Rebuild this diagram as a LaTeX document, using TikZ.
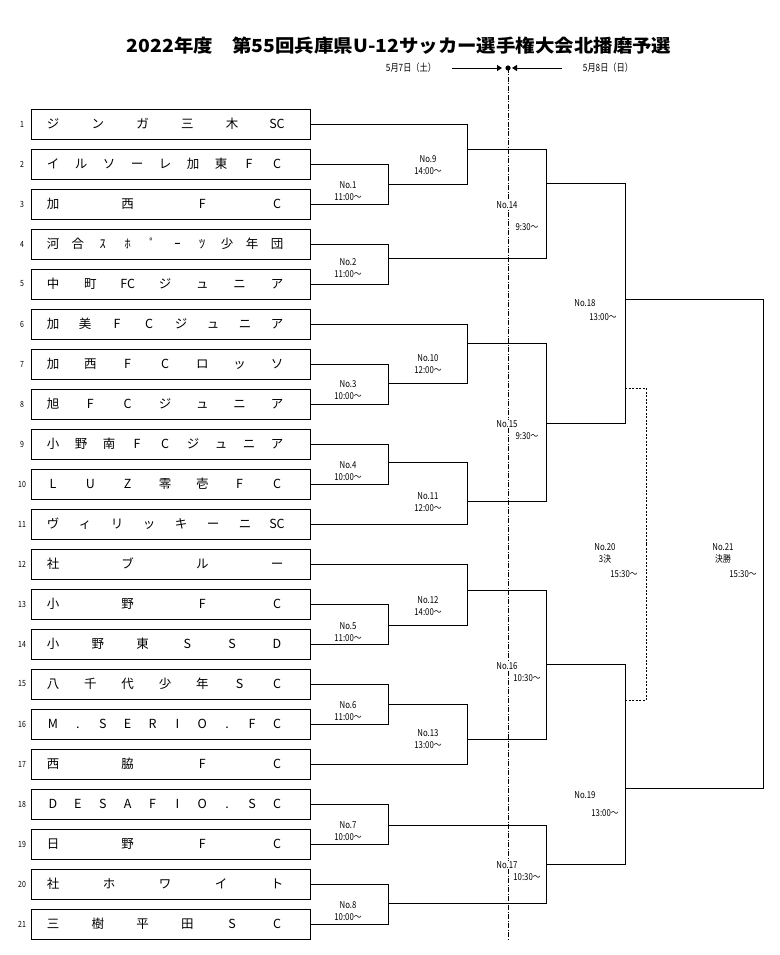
\documentclass[tikz,border=0pt]{standalone}
\usepackage{fontspec}
\setmainfont{Noto Sans CJK JP}
\newfontfamily\jp{Noto Sans CJK JP}
\newfontfamily\narrowjp[FakeStretch=0.82]{Noto Sans CJK JP}
\usetikzlibrary{arrows.meta}
\newcommand\teamrow[2]{%
  \pgfmathsetmacro\ty{124+40*(#1-1)}%
  \node[teambox] (t#1) at (170.5,\ty) {};
  \node[num] (n#1) at (22,\ty) {#1};
  \xdef\ntok{0}%
  \foreach \w in {#2} {\xdef\ntok{\the\numexpr\ntok+1\relax}}%
  \foreach \w [count=\i] in {#2} {%
    \pgfmathsetmacro\tx{53+224*(\i-1)/(\ntok-1)}%
    \node[tok] (t#1w\i) at (\tx,\ty) {\w};
  }%
}
\begin{document}
\begin{tikzpicture}[x=1pt,y=-1pt,
  teambox/.style={draw,line width=0.9pt,minimum width=279pt,minimum height=30pt,inner sep=0pt},
  tok/.style={font=\jp\fontsize{12.5}{14}\selectfont,inner sep=0pt,text height=9.5pt,text depth=1pt},
  num/.style={font=\narrowjp\fontsize{8.5}{9}\selectfont,inner sep=0pt},
  lbl/.style={font=\narrowjp\fontsize{9.5}{12}\selectfont,fill=white,inner sep=0.8pt,align=center},
  wire/.style={line width=0.8pt},
  dashwire/.style={line width=0.7pt,dash pattern=on 2pt off 1.5pt},
  centerline/.style={line width=0.6pt,dash pattern=on 5pt off 1.5pt on 1pt off 1.5pt},
]
\useasboundingbox[fill=white] (0,0) rectangle (779,955);

% header
\node[font=\jp\bfseries\fontsize{18}{20}\selectfont,inner sep=0pt] (title) at (399,46)
  {\scalebox{1.08}[1]{2022年度　第55回兵庫県U-12サッカー選手権大会北播磨予選}};
\node[font=\narrowjp\fontsize{10}{11}\selectfont,inner sep=0pt] (d1) at (411,68) {5月7日（土）};
\node[font=\narrowjp\fontsize{10}{11}\selectfont,inner sep=0pt] (d2) at (608,68) {5月8日（日）};
\coordinate (a1s) at (452,68);
\coordinate (a1e) at (502,68);
\coordinate (a2s) at (562,68);
\coordinate (a2e) at (512,68);
\coordinate (ctop) at (508,68);
\coordinate (cbot) at (508,940);
\draw[centerline] (ctop) -- (cbot);
\draw[line width=0.8pt,-{Triangle[length=5pt,width=6pt]}] (a1s) -- (a1e);
\draw[line width=0.8pt,-{Triangle[length=5pt,width=6pt]}] (a2s) -- (a2e);
\fill (ctop) circle (2.6pt);

% teams
\teamrow{1}{ジ,ン,ガ,三,木,SC}
\teamrow{2}{イ,ル,ソ,ー,レ,加,東,F,C}
\teamrow{3}{加,西,F,C}
\teamrow{4}{河,合,ｽ,ﾎ,ﾟ,ｰ,ﾂ,少,年,団}
\teamrow{5}{中,町,FC,ジ,ュ,ニ,ア}
\teamrow{6}{加,美,F,C,ジ,ュ,ニ,ア}
\teamrow{7}{加,西,F,C,ロ,ッ,ソ}
\teamrow{8}{旭,F,C,ジ,ュ,ニ,ア}
\teamrow{9}{小,野,南,F,C,ジ,ュ,ニ,ア}
\teamrow{10}{L,U,Z,零,壱,F,C}
\teamrow{11}{ヴ,ィ,リ,ッ,キ,ー,ニ,SC}
\teamrow{12}{社,ブ,ル,ー}
\teamrow{13}{小,野,F,C}
\teamrow{14}{小,野,東,S,S,D}
\teamrow{15}{八,千,代,少,年,S,C}
\teamrow{16}{M,.,S,E,R,I,O,.,F,C}
\teamrow{17}{西,脇,F,C}
\teamrow{18}{D,E,S,A,F,I,O,.,S,C}
\teamrow{19}{日,野,F,C}
\teamrow{20}{社,ホ,ワ,イ,ト}
\teamrow{21}{三,樹,平,田,S,C}

% match points
\coordinate (m1) at (388,184);
\coordinate (m2) at (388,258);
\coordinate (m3) at (388,383);
\coordinate (m4) at (388,462);
\coordinate (m5) at (388,625);
\coordinate (m6) at (388,704);
\coordinate (m7) at (388,825);
\coordinate (m8) at (388,903);
\coordinate (m9) at (467,149);
\coordinate (m10) at (467,343);
\coordinate (m11) at (467,501);
\coordinate (m12) at (467,590);
\coordinate (m13) at (467,739);
\coordinate (m14) at (546,183);
\coordinate (m15) at (546,423);
\coordinate (m16) at (546,664);
\coordinate (m17) at (546,864);
\coordinate (m18) at (625,299);
\coordinate (m19) at (625,788);
\coordinate (m21) at (763,540);
\coordinate (s20a) at (625,388);
\coordinate (s20b) at (625,700);
\coordinate (m20) at (646,544);

% wires
\foreach \a/\b in {t2/m1,t3/m1,t4/m2,t5/m2,t7/m3,t8/m3,t9/m4,t10/m4,
                   t13/m5,t14/m5,t15/m6,t16/m6,t18/m7,t19/m7,t20/m8,t21/m8}
  \draw[wire] (\a.east) -| (\b);
\foreach \a/\b in {t1/m9,t6/m10,t11/m11,t12/m12,t17/m13}
  \draw[wire] (\a.east) -| (\b);
\foreach \a/\b in {m1/m9,m3/m10,m4/m11,m5/m12,m6/m13,
                   m9/m14,m2/m14,m10/m15,m11/m15,m12/m16,m13/m16,m7/m17,m8/m17,
                   m14/m18,m15/m18,m16/m19,m17/m19,m18/m21,m19/m21}
  \draw[wire] (\a) -| (\b);
\draw[dashwire] (s20a) -| (m20);
\draw[dashwire] (s20b) -| (m20);

% labels
\node[lbl] (l1) at (348,191) {No.1\\11:00～};
\node[lbl] (l2) at (348,268) {No.2\\11:00～};
\node[lbl] (l3) at (348,390) {No.3\\10:00～};
\node[lbl] (l4) at (348,471) {No.4\\10:00～};
\node[lbl] (l5) at (348,632) {No.5\\11:00～};
\node[lbl] (l6) at (348,711) {No.6\\11:00～};
\node[lbl] (l7) at (348,831) {No.7\\10:00～};
\node[lbl] (l8) at (348,911) {No.8\\10:00～};
\node[lbl] (l9) at (428,165) {No.9\\14:00～};
\node[lbl] (l10) at (428,364) {No.10\\12:00～};
\node[lbl] (l11) at (428,502) {No.11\\12:00～};
\node[lbl] (l12) at (428,606) {No.12\\14:00～};
\node[lbl] (l13) at (428,739) {No.13\\13:00～};
\node[lbl] (l14) at (507,205) {No.14};
\node[lbl] (l14t) at (527,227) {9:30～};
\node[lbl] (l15) at (507,424) {No.15};
\node[lbl] (l15t) at (527,436) {9:30～};
\node[lbl] (l16) at (507,666) {No.16};
\node[lbl] (l16t) at (527,678) {10:30～};
\node[lbl] (l17) at (507,865) {No.17};
\node[lbl] (l17t) at (527,877) {10:30～};
\node[lbl] (l18) at (585,303) {No.18};
\node[lbl] (l18t) at (603,317) {13:00～};
\node[lbl] (l19) at (585,795) {No.19};
\node[lbl] (l19t) at (605,813) {13:00～};
\node[lbl] (l20) at (605,553) {No.20\\3決};
\node[lbl] (l20t) at (624,574) {15:30～};
\node[lbl] (l21) at (723,553) {No.21\\決勝};
\node[lbl] (l21t) at (743,574) {15:30～};
\end{tikzpicture}
\end{document}
